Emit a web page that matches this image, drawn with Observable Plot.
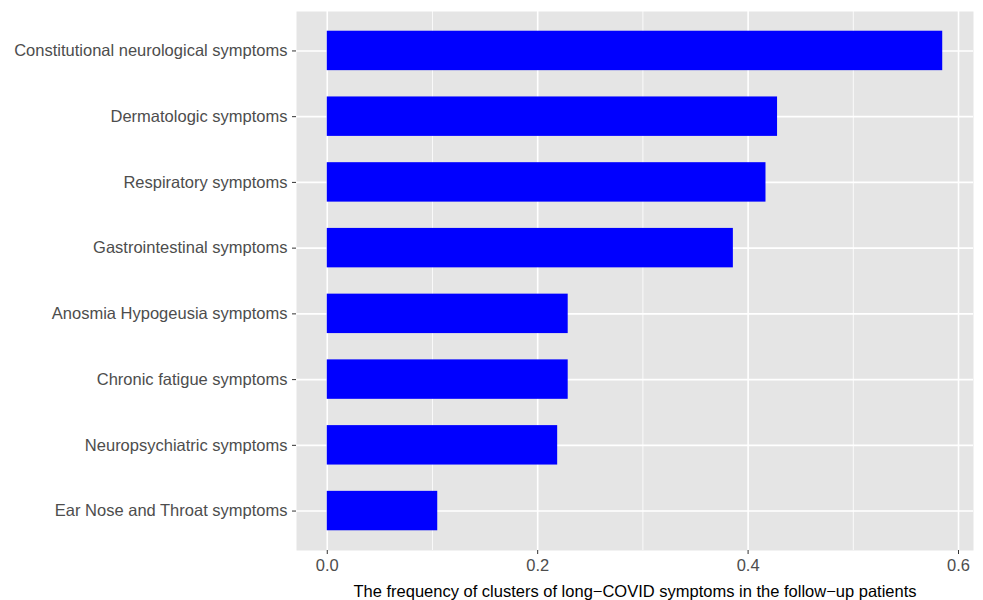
<!DOCTYPE html>
<html><head>
<meta charset="utf-8">
<script src="https://cdn.jsdelivr.net/npm/d3@7"></script>
<script src="https://cdn.jsdelivr.net/npm/@observablehq/plot@0.6"></script>
<style>body{margin:0;background:#fff;font-family:"Liberation Sans",Arial,sans-serif}</style>
</head><body><div id="chart"></div>
<script>
const categories = [
  "Constitutional neurological symptoms",
  "Dermatologic symptoms",
  "Respiratory symptoms",
  "Gastrointestinal symptoms",
  "Anosmia Hypogeusia symptoms",
  "Chronic fatigue symptoms",
  "Neuropsychiatric symptoms",
  "Ear Nose and Throat symptoms"
];
const values = [0.585, 0.428, 0.417, 0.386, 0.229, 0.229, 0.219, 0.105];
const majorTicks = [0, 0.2, 0.4, 0.6];
const minorTicks = [0.1, 0.3, 0.5];
const xTitle = "The frequency of clusters of long\u2212COVID symptoms in the follow\u2212up patients";

const data = categories.map((c, i) => ({category: c, value: values[i]}));
const maxV = d3.max(values);
const pad = maxV * 0.05;

const chart = Plot.plot({
  width: 983, height: 600,
  marginLeft: 296, marginRight: 10, marginTop: 11, marginBottom: 50,
  style: {fontFamily: "'Liberation Sans', Arial, sans-serif", fontSize: "16.5px", background: "white"},
  x: {domain: [-pad, maxV + pad]},
  y: {domain: categories, paddingInner: 0.4, paddingOuter: 0.3, round: false},
  marks: [
    Plot.frame({fill: "#e5e5e5", stroke: null}),
    Plot.gridX(minorTicks, {stroke: "white", strokeOpacity: 1, strokeWidth: 0.8}),
    Plot.gridX(majorTicks, {stroke: "white", strokeOpacity: 1, strokeWidth: 1.6}),
    Plot.gridY({stroke: "white", strokeOpacity: 1, strokeWidth: 1.6}),
    Plot.barX(data, {x: "value", y: "category", fill: "#0000ff"}),
    Plot.axisY({tickSize: 4, tickPadding: 5, stroke: "#333", fill: "#4d4d4d", label: null, fontSize: 16.5}),
    Plot.axisX(majorTicks, {tickSize: 4, tickPadding: 5, stroke: "#333", fill: "#4d4d4d", tickFormat: d => d.toFixed(1), fontSize: 16.5, label: null}),
    Plot.text([xTitle], {frameAnchor: "bottom", dy: 46, fill: "black", fontSize: 16.5, text: d => d})
  ]
});
document.getElementById("chart").appendChild(chart);
</script>
</body></html>
